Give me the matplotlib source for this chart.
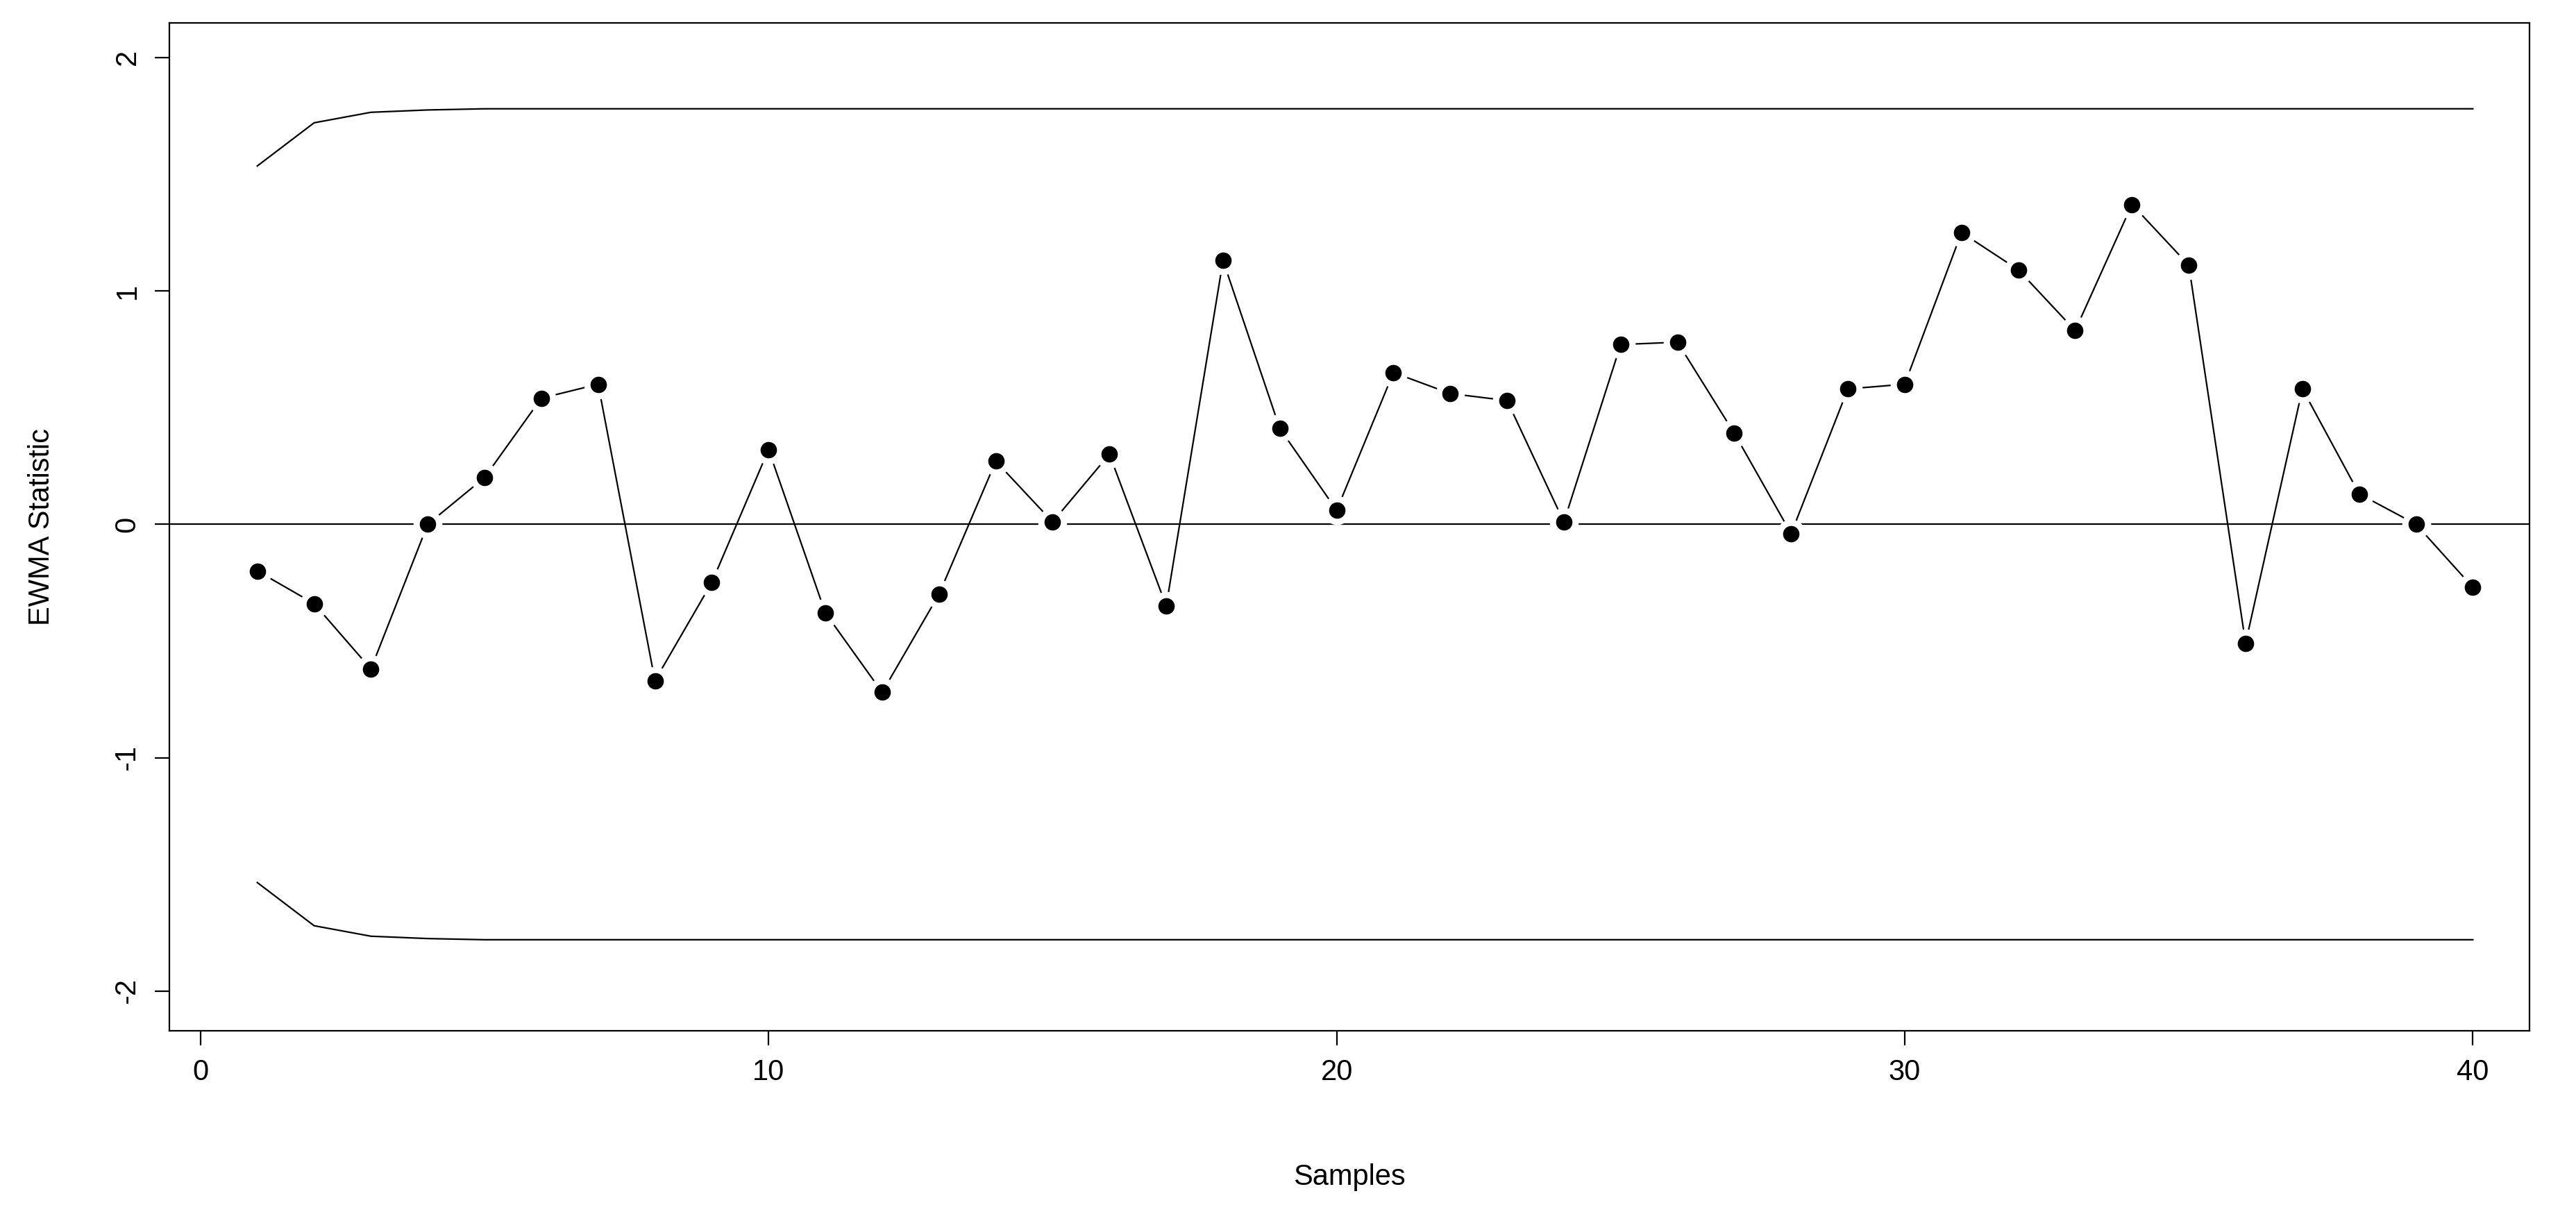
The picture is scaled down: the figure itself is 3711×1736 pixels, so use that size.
import matplotlib
matplotlib.use("Agg")
import matplotlib.pyplot as plt

plt.rcParams["font.family"] = ["Liberation Sans", "DejaVu Sans"]
plt.rcParams["axes.unicode_minus"] = False

# EWMA chart values
samples = list(range(1, 41))
ewma = [-0.20, -0.34, -0.62, 0.00, 0.20, 0.54, 0.60, -0.67, -0.25, 0.32,
        -0.38, -0.72, -0.30, 0.27, 0.01, 0.30, -0.35, 1.13, 0.41, 0.06,
        0.65, 0.56, 0.53, 0.01, 0.77, 0.78, 0.39, -0.04, 0.58, 0.60,
        1.25, 1.09, 0.83, 1.37, 1.11, -0.51, 0.58, 0.13, 0.00, -0.27]
ucl = [1.535, 1.72, 1.765, 1.775] + [1.78] * 36
lcl = [-v for v in ucl]
center = 0.0

fig = plt.figure(figsize=(37.11, 17.36), dpi=100)
ax = fig.add_axes([0.0657, 0.1446, 0.9163, 0.8364])

ax.plot(samples, ewma, color="black", lw=1.6, zorder=2)
ax.plot(samples, ewma, "o", color="black", ms=21,
        markeredgecolor="white", markeredgewidth=9, zorder=3)
ax.plot(samples, ewma, "o", color="black", ms=16, zorder=4)
ax.plot(samples, ucl, color="black", lw=1.6)
ax.plot(samples, lcl, color="black", lw=1.6)
ax.axhline(center, color="black", lw=1.6)

ax.set_xlim(-0.55, 41.0)
ax.set_ylim(-2.17, 2.148)
ax.set_xticks([0, 10, 20, 30, 40])
ax.set_yticks([-2, -1, 0, 1, 2])
ax.tick_params(labelsize=30, length=15, width=1.6, pad=14)
for t in ax.get_yticklabels():
    t.set_rotation(90)
    t.set_va("center")
for s in ax.spines.values():
    s.set_linewidth(1.6)
ax.set_xlabel("Samples", fontsize=30, labelpad=80)
ax.set_ylabel("EWMA Statistic", fontsize=30, labelpad=60)

fig.savefig("out.png", dpi=100)
